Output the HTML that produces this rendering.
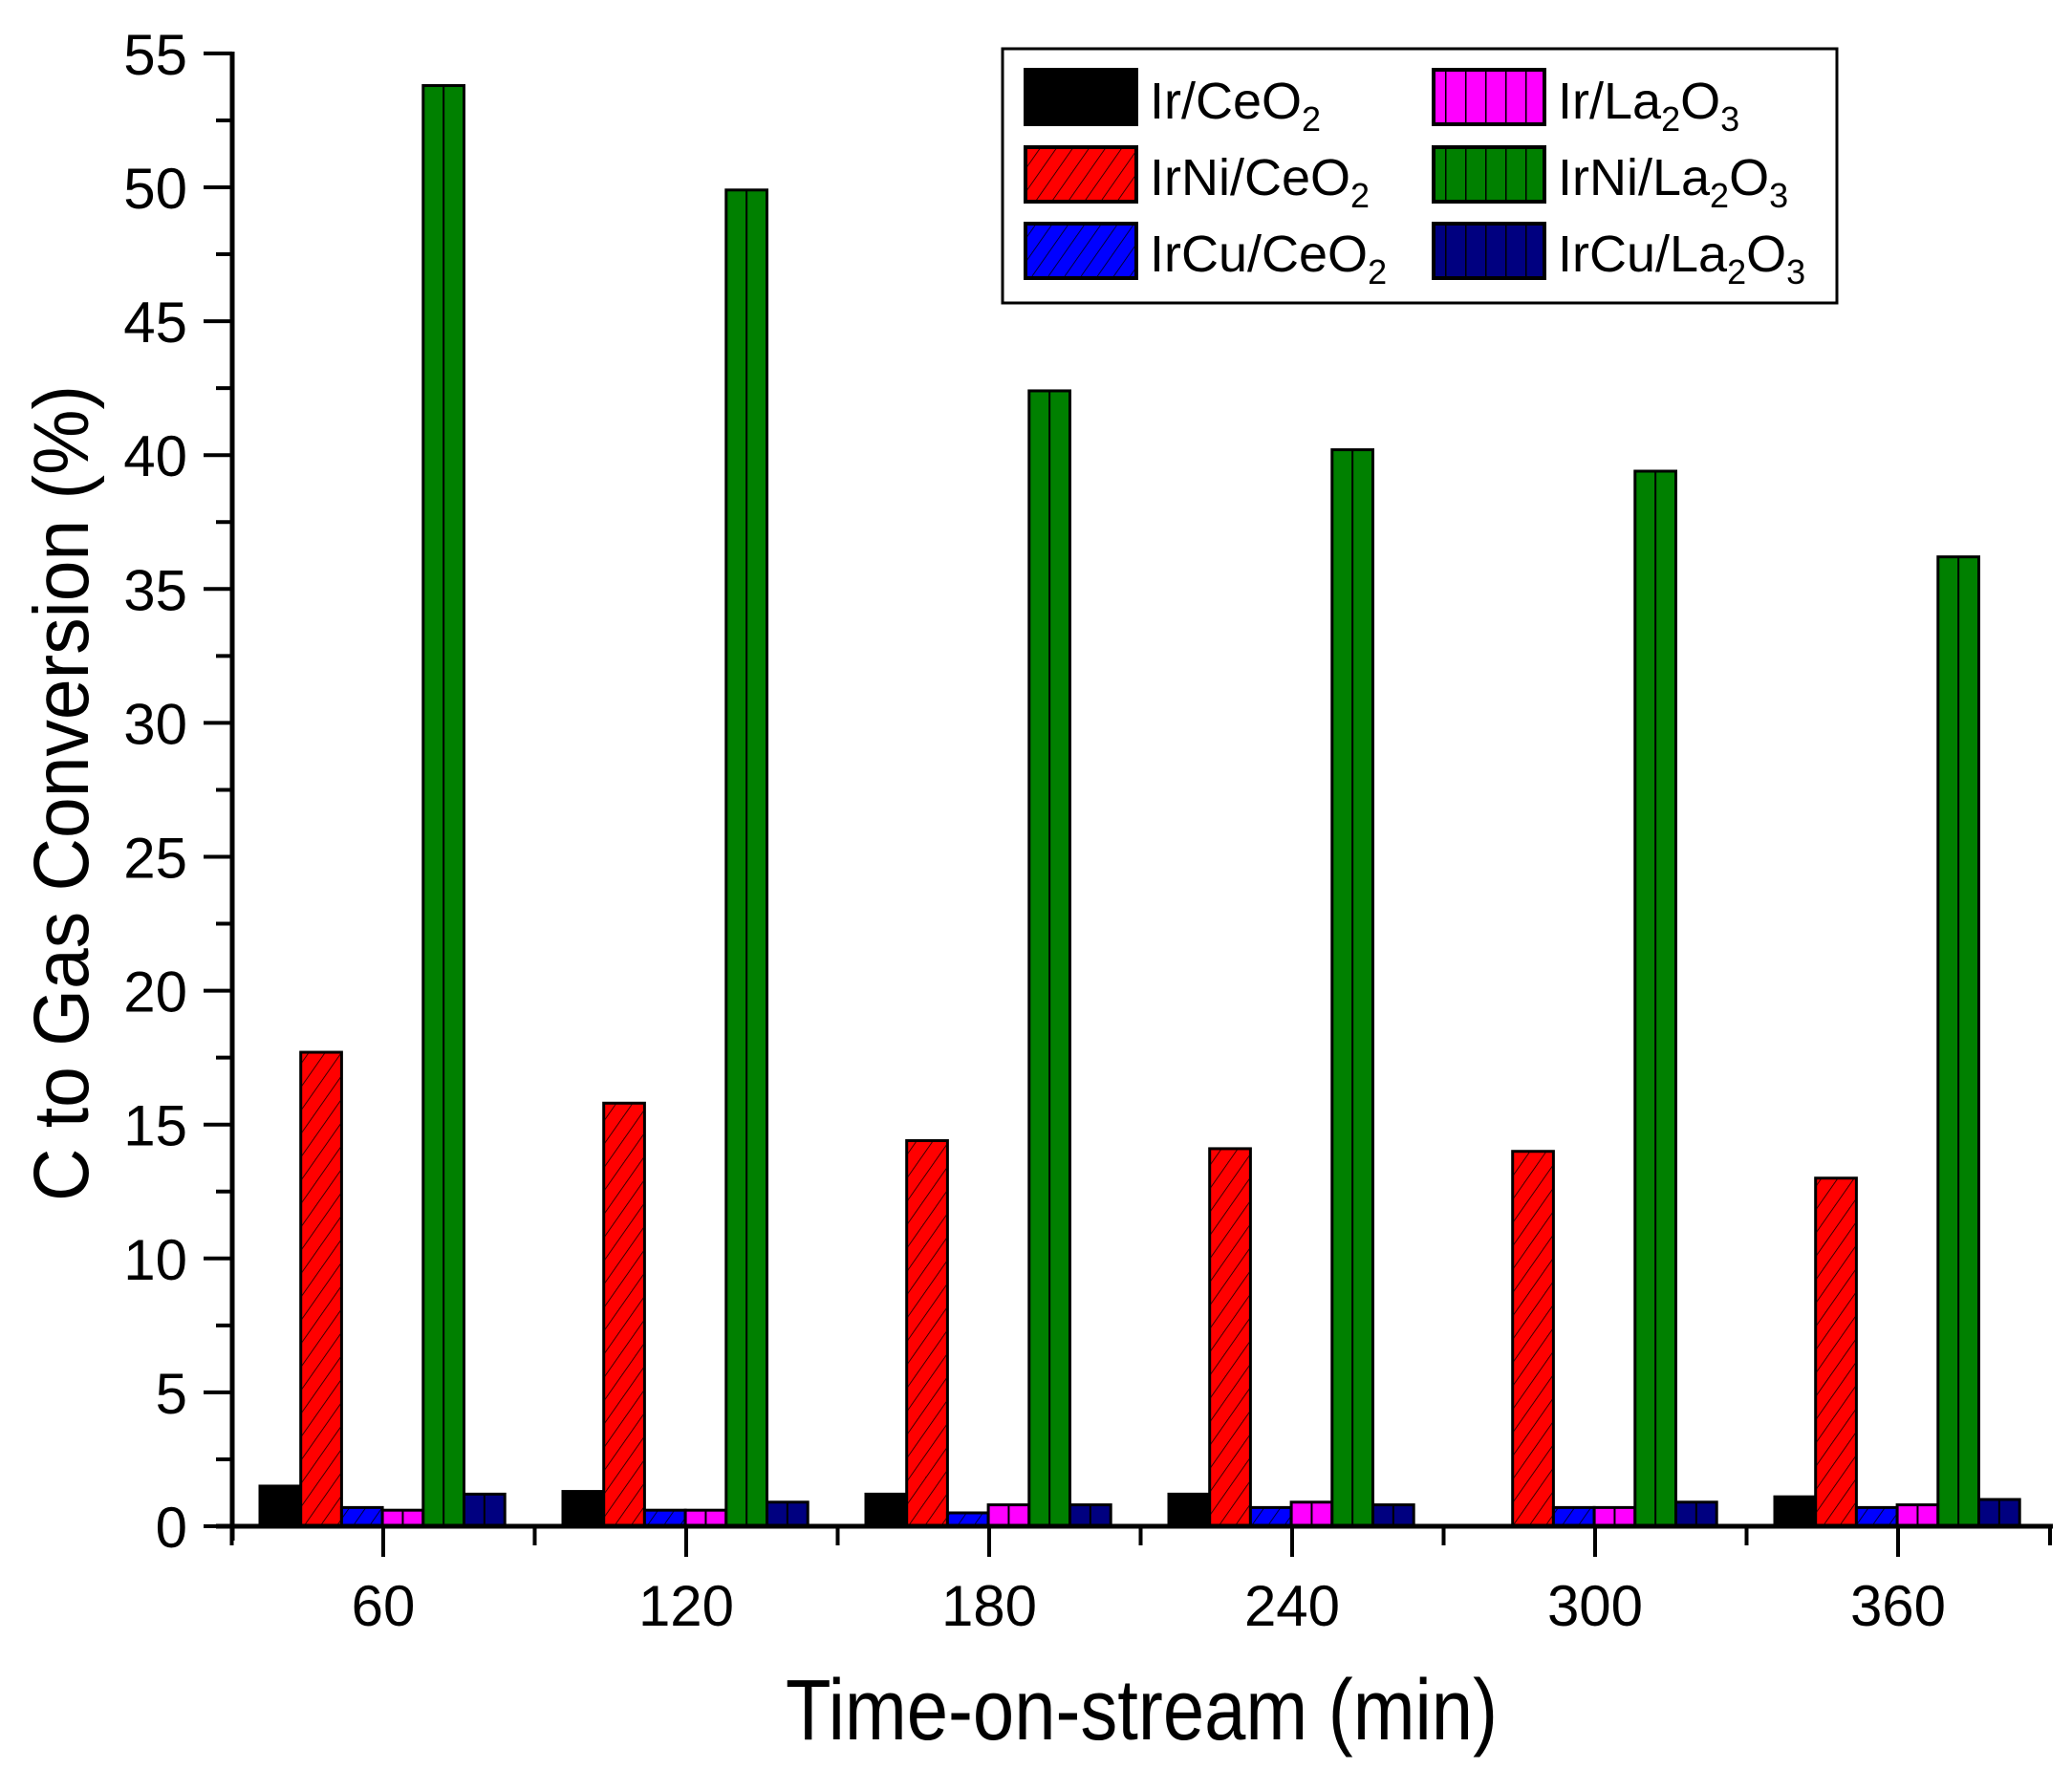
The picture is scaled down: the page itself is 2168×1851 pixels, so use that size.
<!DOCTYPE html>
<html><head><meta charset="utf-8">
<style>
html,body{margin:0;padding:0;background:#fff;}
svg{display:block;font-family:"Liberation Sans",Arial,sans-serif;}
</style></head>
<body>
<svg id="c" width="2168" height="1851" viewBox="0 0 2168 1851" xmlns="http://www.w3.org/2000/svg">
<defs>
<pattern id="diag" patternUnits="userSpaceOnUse" width="14" height="14" patternTransform="rotate(35)">
<line x1="0" y1="0" x2="0" y2="14" stroke="#000" stroke-width="1.5"/>
</pattern>
<pattern id="vert" patternUnits="userSpaceOnUse" width="21" height="20">
<line x1="0.5" y1="0" x2="0.5" y2="20" stroke="#000" stroke-width="2"/>
</pattern>
</defs>
<g id="bars"></g>
<g stroke="#000" stroke-width="5" fill="none">
<line x1="243" y1="54" x2="243" y2="1612"/>
<line x1="226" y1="1597" x2="2148" y2="1597"/>
</g>
<g id="ticks" stroke="#000" stroke-width="4"></g>
<g id="labels" font-size="60" fill="#000"></g>
<text x="822" y="1820" font-size="90" textLength="745" lengthAdjust="spacingAndGlyphs">Time-on-stream (min)</text>
<text transform="translate(92,1257) rotate(-90)" font-size="82" textLength="854" lengthAdjust="spacingAndGlyphs">C to Gas Conversion (%)</text>
<rect x="1049" y="51" width="873" height="266" fill="#fff" stroke="#000" stroke-width="3"/>
<g stroke="#000" stroke-width="4">
<rect x="1073" y="73" width="116" height="57" fill="#000"/>
<rect x="1073" y="154" width="116" height="57" fill="#ff0000"/>
<rect x="1073" y="154" width="116" height="57" fill="url(#diag)"/>
<rect x="1073" y="234" width="116" height="57" fill="#0000ff"/>
<rect x="1073" y="234" width="116" height="57" fill="url(#diag)"/>
<rect x="1500" y="73" width="116" height="57" fill="#ff00ff"/>
<rect x="1500" y="73" width="116" height="57" fill="url(#vert)"/>
<rect x="1500" y="154" width="116" height="57" fill="#008000"/>
<rect x="1500" y="154" width="116" height="57" fill="url(#vert)"/>
<rect x="1500" y="234" width="116" height="57" fill="#000080"/>
<rect x="1500" y="234" width="116" height="57" fill="url(#vert)"/>
</g>
<g font-size="54" fill="#000">
<text x="1203" y="124">Ir/CeO<tspan font-size="36" dy="13">2</tspan></text>
<text x="1203" y="204">IrNi/CeO<tspan font-size="36" dy="13">2</tspan></text>
<text x="1203" y="284">IrCu/CeO<tspan font-size="36" dy="13">2</tspan></text>
<text x="1630" y="124">Ir/La<tspan font-size="36" dy="13">2</tspan><tspan dy="-13">O</tspan><tspan font-size="36" dy="13">3</tspan></text>
<text x="1630" y="204">IrNi/La<tspan font-size="36" dy="13">2</tspan><tspan dy="-13">O</tspan><tspan font-size="36" dy="13">3</tspan></text>
<text x="1630" y="284">IrCu/La<tspan font-size="36" dy="13">2</tspan><tspan dy="-13">O</tspan><tspan font-size="36" dy="13">3</tspan></text>
</g>
</svg>
<script>
(function(){
var NS="http://www.w3.org/2000/svg";
function el(t,a,p){var e=document.createElementNS(NS,t);for(var k in a)e.setAttribute(k,a[k]);p.appendChild(e);return e;}
var data=[[1.5,17.7,0.7,0.6,53.8,1.2],[1.3,15.8,0.6,0.6,49.9,0.9],[1.2,14.4,0.5,0.8,42.4,0.8],[1.2,14.1,0.7,0.9,40.2,0.8],[0,14.0,0.7,0.7,39.4,0.9],[1.1,13.0,0.7,0.8,36.2,1.0]];
var cols=["#000","#ff0000","#0000ff","#ff00ff","#008000","#000080"];
var pat=[null,"diag","diag","vert","vert","vert"];
var y0=1597,k=28.02,bw=42.7;
var bars=document.getElementById("bars");
for(var g=0;g<6;g++){for(var i=0;i<6;i++){var v=data[g][i];if(v<=0)continue;
var x=272+317*g+bw*i,h=v*k,y=y0-h;
el("rect",{x:x,y:y,width:bw,height:h,fill:cols[i],stroke:"#000","stroke-width":3},bars);
if(pat[i]=="diag")el("rect",{x:x,y:y,width:bw,height:h,fill:"url(#diag)",stroke:"none"},bars);
if(pat[i]=="vert")el("line",{x1:x+bw/2,y1:y,x2:x+bw/2,y2:y0,stroke:"#000","stroke-width":2},bars);
}}
var t=document.getElementById("ticks"),L=document.getElementById("labels");
for(var v=0;v<=55;v+=2.5){var y=y0-v*k;var maj=(v%5==0);
el("line",{x1:maj?213:226,y1:y,x2:243,y2:y},t);
if(maj){var tx=el("text",{x:196,y:y+22,"text-anchor":"end"},L);tx.textContent=String(v);}}
for(var g=0;g<6;g++){var cx=401+317*g;
el("line",{x1:cx,y1:y0,x2:cx,y2:y0+32},t);
el("line",{x1:cx-158.5,y1:y0,x2:cx-158.5,y2:y0+20},t);
var tx=el("text",{x:cx,y:1701,"text-anchor":"middle"},L);tx.textContent=String(60*(g+1));}
el("line",{x1:2145,y1:y0,x2:2145,y2:y0+20},t);
})();
</script>
</body></html>
